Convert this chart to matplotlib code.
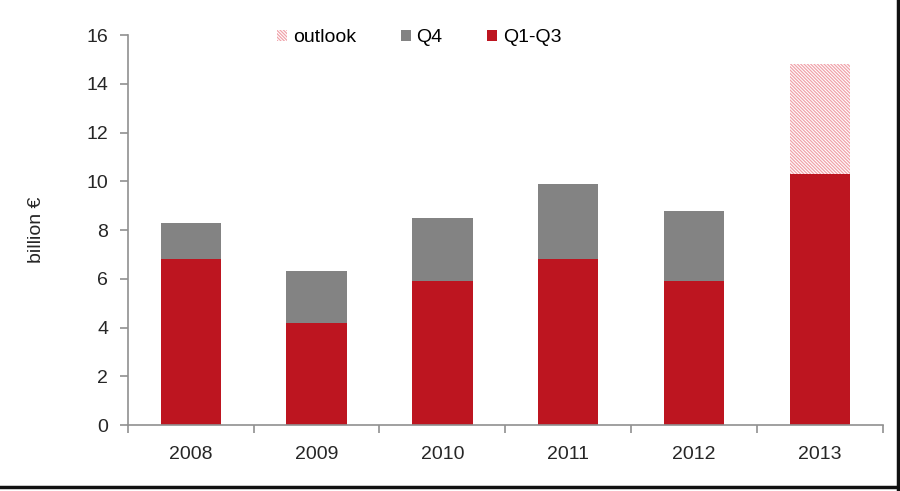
import matplotlib.pyplot as plt
from matplotlib.lines import Line2D
import numpy as np

plt.rcParams['font.family'] = ['Liberation Sans', 'DejaVu Sans']
plt.rcParams['hatch.linewidth'] = 0.9

# Data
years = ["2008", "2009", "2010", "2011", "2012", "2013"]
q1_q3 = [6.8, 4.2, 5.9, 6.8, 5.9, 10.3]
q4 = [1.5, 2.1, 2.6, 3.1, 2.9, 0]
outlook = [0, 0, 0, 0, 0, 4.5]

red = '#bd1520'
gray = '#838383'
pink = '#f0a3aa'
txt = '#262626'

fig = plt.figure(figsize=(9, 4.91), dpi=100)
ax = fig.add_axes([0.142, 0.1344, 0.839, 0.7943])

x = np.arange(len(years))
w = 0.48
q4_bottom = np.array(q1_q3)
out_bottom = q4_bottom + np.array(q4)

ax.bar(x, q1_q3, w, color=red, label='Q1-Q3', zorder=2)
ax.bar(x, q4, w, bottom=q4_bottom, color=gray, label='Q4', zorder=2)
ax.bar(x, outlook, w, bottom=out_bottom, facecolor='white', edgecolor=pink,
       hatch='\\' * 10, linewidth=0, label='outlook', zorder=2)

ax.set_xlim(-0.5, len(years) - 0.5)
ax.set_ylim(0, 16)
ax.set_yticks(range(0, 17, 2))
ax.set_xticks(x)
ax.set_xticklabels(years)
ax.set_xticks(np.arange(-0.5, len(years), 1), minor=True)
ax.tick_params(axis='x', which='major', length=0, pad=15, labelsize=14, colors=txt)
ax.tick_params(axis='x', which='minor', length=6, width=1.2, color='#909090', direction='out')
ax.tick_params(axis='y', length=6, width=1.2, color='#909090', pad=8, labelsize=14,
               labelcolor=txt, direction='out')

for s in ['top', 'right']:
    ax.spines[s].set_visible(False)
for s in ['left', 'bottom']:
    ax.spines[s].set_color('#909090')
    ax.spines[s].set_linewidth(1.2)

ax.set_ylabel('billion €', fontsize=14, color=txt, labelpad=30)

handles, labels = ax.get_legend_handles_labels()
order = [2, 1, 0]
ax.legend([handles[i] for i in order], [labels[i] for i in order],
          loc='upper left', bbox_to_anchor=(0.175, 1.06), ncol=3, frameon=False,
          fontsize=14, handlelength=0.5, handleheight=0.5, handletextpad=0.3,
          columnspacing=2.3)

# dark frame on right and bottom edges
fig.add_artist(Line2D([0.9975, 0.9975], [0, 1], color='#111111', lw=2.5, transform=fig.transFigure))
fig.add_artist(Line2D([0, 1], [0.0085, 0.0085], color='#111111', lw=2.5, transform=fig.transFigure))

fig.savefig('out.png', dpi=100)
